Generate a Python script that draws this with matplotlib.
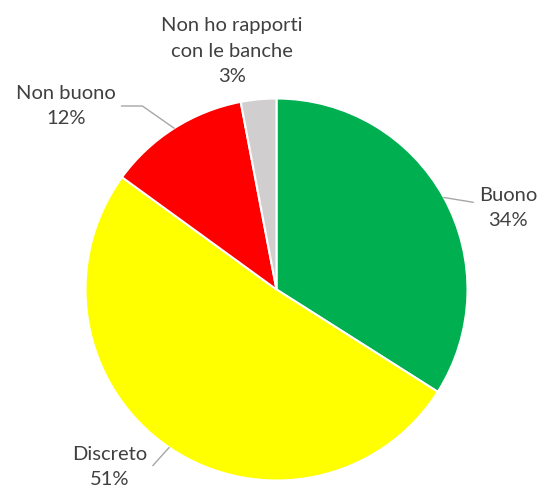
import numpy as np
import matplotlib
matplotlib.use('Agg')
import matplotlib.pyplot as plt

plt.rcParams['font.family'] = ['Lato', 'DejaVu Sans']

# data
labels = ['Buono', 'Discreto', 'Non buono', 'Non ho rapporti\ncon le banche']
values = [34, 51, 12, 3]
colors = ['#00B050', '#FFFF00', '#FF0000', '#D0CECE']

W, H = 544, 491
fig = plt.figure(figsize=(W / 100, H / 100), dpi=100)
ax = fig.add_axes([0, 0, 1, 1])

cx, cy, R = 276.5, 289.5, 191
# y axis is inverted: start at -90 (screen top), counterclock in data = clockwise on screen
wedges, _ = ax.pie(values, colors=colors, startangle=-90, counterclock=True,
                   center=(cx, cy), radius=R,
                   wedgeprops=dict(edgecolor='white', linewidth=1.5))
ax.set_xlim(0, W)
ax.set_ylim(H, 0)
ax.set_aspect('equal')
ax.axis('off')

txt = '#404040'
fs = 14.5
# label positions (pixels) and whether a leader line is drawn
pos = [(508, 208), (110, 467), (66, 106), (232, 51)]
leader = [True, True, True, False]
conn = ['arc3', 'angle,angleA=0,angleB=48,rad=0', 'angle,angleA=0,angleB=-35,rad=0', None]

for w, lab, v, p, ld, cs in zip(wedges, labels, values, pos, leader, conn):
    mid = np.radians((w.theta1 + w.theta2) / 2)
    ex = cx + R * np.cos(mid)
    ey = cy + R * np.sin(mid)
    s = f'{lab}\n{v}%'
    if ld:
        ax.annotate(s, xy=(ex, ey), xytext=p, ha='center', va='center',
                    fontsize=fs, color=txt, linespacing=1.6,
                    arrowprops=dict(arrowstyle='-', color='#A6A6A6', lw=1,
                                    shrinkA=2, shrinkB=0, connectionstyle=cs))
    else:
        ax.text(p[0], p[1], s, ha='center', va='center', fontsize=fs,
                color=txt, linespacing=1.6)

fig.savefig('out.png', dpi=100, facecolor='white')
